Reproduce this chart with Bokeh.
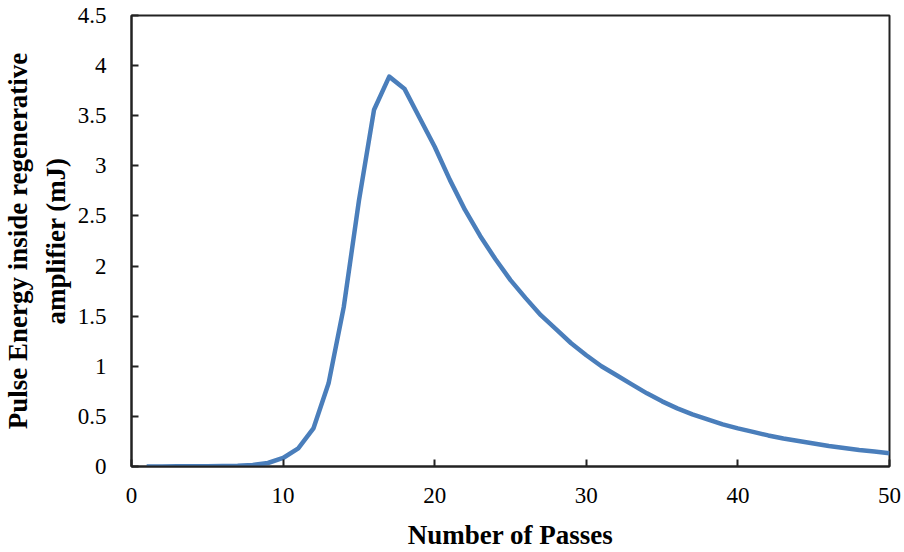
from bokeh.plotting import figure
from bokeh.models import Range1d, FixedTicker
from bokeh.embed import file_html
from bokeh.resources import INLINE

passes = list(range(1, 51))
energy = [0.0005, 0.001, 0.0015, 0.002, 0.003, 0.005, 0.008, 0.015, 0.035, 0.085,
          0.18, 0.38, 0.83, 1.59, 2.65, 3.56, 3.89, 3.77, 3.48, 3.19,
          2.86, 2.56, 2.30, 2.07, 1.86, 1.68, 1.51, 1.37, 1.23, 1.11,
          1.00, 0.91, 0.82, 0.73, 0.65, 0.58, 0.52, 0.47, 0.42, 0.38,
          0.345, 0.31, 0.28, 0.255, 0.23, 0.205, 0.185, 0.165, 0.15, 0.133]

x_ticks = [0, 10, 20, 30, 40, 50]
y_ticks = [0, 0.5, 1, 1.5, 2, 2.5, 3, 3.5, 4, 4.5]
y_tick_labels = ["0", "0.5", "1", "1.5", "2", "2.5", "3", "3.5", "4", "4.5"]

FONT = "Liberation Serif"

p = figure(width=904, height=552, output_backend="svg", toolbar_location=None,
           x_range=Range1d(0, 50), y_range=Range1d(0, 4.5))
p.min_border_left = 131
p.min_border_right = 15
p.min_border_top = 15
p.min_border_bottom = 86
p.background_fill_color = "white"
p.border_fill_color = "white"
p.grid.visible = False
p.outline_line_color = "#222222"
p.outline_line_width = 2

p.line(passes, energy, line_color="#4A7EBB", line_width=4.5, line_join="round")

for ax in (p.xaxis[0], p.yaxis[0]):
    ax.axis_line_color = "#222222"
    ax.axis_line_width = 2
    ax.major_tick_in = 7
    ax.major_tick_out = 0
    ax.major_tick_line_color = "#222222"
    ax.major_tick_line_width = 2
    ax.minor_tick_line_color = None
    ax.major_label_text_font = FONT
    ax.major_label_text_font_size = "23px"
    ax.major_label_text_color = "black"
    ax.axis_label_text_font = FONT
    ax.axis_label_text_font_style = "bold"
    ax.axis_label_text_font_size = "27px"
    ax.axis_label_text_color = "black"

p.xaxis.ticker = FixedTicker(ticks=x_ticks)
p.yaxis.ticker = FixedTicker(ticks=y_ticks)
p.yaxis.major_label_overrides = {t: l for t, l in zip(y_ticks, y_tick_labels)}
p.xaxis.major_label_standoff = 21
p.yaxis.major_label_standoff = 25
p.xaxis.axis_label = "Number of Passes"
p.yaxis.axis_label = "Pulse Energy inside regenerative\namplifier (mJ)"
p.yaxis.axis_label_text_line_height = 1.25
p.xaxis.axis_label_standoff = 14
p.yaxis.axis_label_standoff = 4

open("out.html", "w").write(file_html(p, INLINE))
